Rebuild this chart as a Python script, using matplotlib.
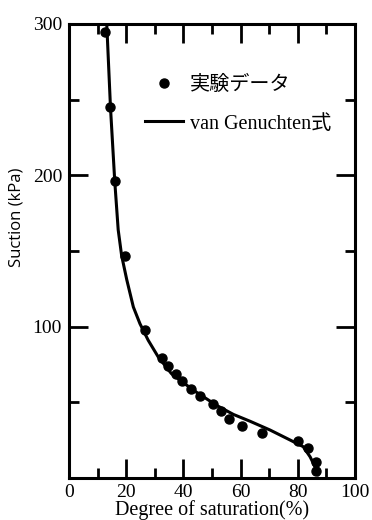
import matplotlib
matplotlib.use("Agg")
import matplotlib.pyplot as plt
from matplotlib.lines import Line2D
from matplotlib.ticker import MultipleLocator

# Experimental data (degree of saturation %, suction kPa)
data_sr = [12.6, 14.3, 16.1, 19.6, 26.7, 32.6, 34.7, 37.4, 39.6, 42.5,
           45.9, 50.5, 53.1, 56.1, 60.5, 67.5, 80.1, 83.7, 86.4, 86.4]
data_suction = [295, 245, 196, 147, 98, 79, 74, 68.5, 64, 59,
                54, 49, 44, 39, 34.6, 29.5, 24.7, 20, 10.4, 4.6]

# van Genuchten fitted curve
fit_sr = [13.2, 14.5, 16.0, 17.2, 18.4, 20.2, 22.5, 24.8, 27.7, 31.2,
          35.8, 43.5, 51.6, 57.5, 63.3, 70.3, 77.3, 81.9, 84.3, 86.6, 87.1]
fit_suction = [300, 245, 196, 164, 147, 131, 113, 102, 91, 80,
               69, 58, 48, 42, 37.5, 31.7, 25.1, 20.7, 14, 5.3, 2]

x_ticks = [0, 20, 40, 60, 80, 100]
y_ticks = [100, 200, 300]

serif = ['Liberation Serif', 'Noto Sans CJK JP']
plt.rcParams['font.family'] = serif

fig = plt.figure(figsize=(3.72, 5.2), dpi=100)
ax = fig.add_axes([69/372, 42/520, 286/372, 454/520])

ax.plot(fit_sr, fit_suction, color='black', lw=2.2, solid_capstyle='round',
        solid_joinstyle='round')
ax.plot(data_sr, data_suction, 'o', color='black', ms=6.5, mec='black')

ax.set_xlim(0, 100)
ax.set_ylim(0, 300)
ax.set_xticks(x_ticks)
ax.set_yticks(y_ticks)
ax.xaxis.set_minor_locator(MultipleLocator(10))
ax.yaxis.set_minor_locator(MultipleLocator(50))
ax.tick_params(which='major', direction='in', top=True, right=True,
               length=14, width=2, labelsize=14, pad=4)
ax.tick_params(which='minor', direction='in', top=True, right=True,
               length=7, width=2)
ax.tick_params(axis='y', pad=5)
for s in ax.spines.values():
    s.set_linewidth(2.2)

ax.set_xlabel('Degree of saturation(%)', fontsize=14.5, labelpad=0)
ax.set_ylabel('Suction (kPa)', fontsize=12,
              family=['Open Sans', 'DejaVu Sans'])
ax.yaxis.set_label_coords(-0.155, 0.575)

handles = [Line2D([], [], marker='o', ls='none', color='black', ms=6.5),
           Line2D([], [], color='black', lw=2.2)]
leg = ax.legend(handles, ['実験データ', 'van Genuchten式'],
                loc='upper left', bbox_to_anchor=(0.266, 0.885),
                borderaxespad=0, borderpad=0,
                frameon=False, handlelength=1.9,
                handletextpad=0.35, labelspacing=0.95,
                prop={'family': serif, 'size': 14.5})

fig.savefig('out.png', dpi=100)
